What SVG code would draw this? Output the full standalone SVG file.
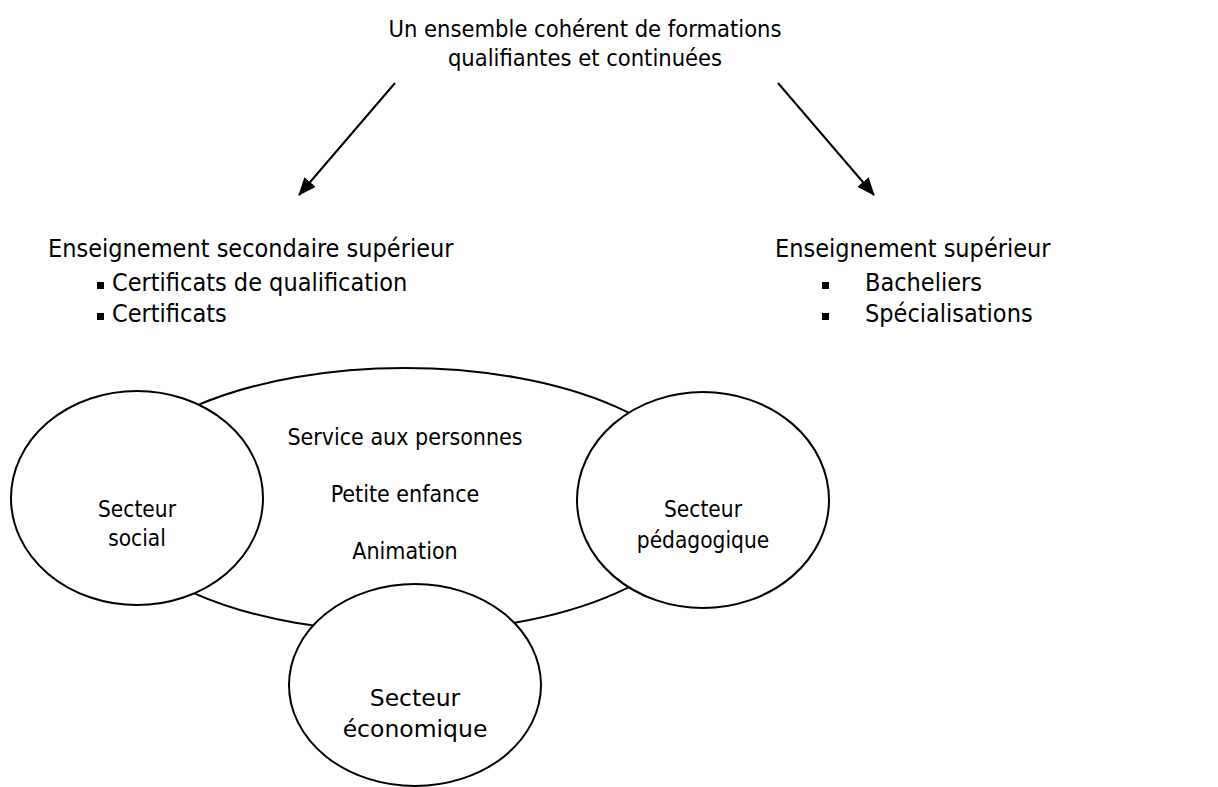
<svg xmlns="http://www.w3.org/2000/svg" width="1218" height="787" viewBox="0 0 1218 787">
<style>
text{font-family:"DejaVu Sans Condensed","DejaVu Sans",sans-serif;fill:#000}
.c{text-anchor:middle}
.top{font-size:23.5px}
.h{font-size:25px}
.in{font-size:23px}
.sec{font-size:22.5px}
.eco{font-family:"DejaVu Sans",sans-serif;font-size:23.5px}
.shape{fill:#fff;stroke:#000;stroke-width:2}
.conn{stroke:#000;stroke-width:2;fill:none}
</style>
<defs>
<marker id="ah" viewBox="0 0 18 15" refX="17" refY="7.5" markerWidth="18" markerHeight="15" markerUnits="userSpaceOnUse" orient="auto">
<path d="M0,0 L18,7.5 L0,15 z" fill="#000"/>
</marker>
</defs>
<rect width="1218" height="787" fill="#fff"/>
<g id="title">
<text class="top c" x="585" y="37">Un ensemble cohérent de formations</text>
<text class="top c" x="585" y="66">qualifiantes et continuées</text>
</g>
<g id="connectors">
<line class="conn" x1="395" y1="83" x2="299" y2="195" marker-end="url(#ah)"/>
<line class="conn" x1="778" y1="83" x2="874" y2="195" marker-end="url(#ah)"/>
</g>
<g id="secondaire">
<text class="h" x="48" y="257">Enseignement secondaire supérieur</text>
<rect x="97" y="282" width="7" height="7"/>
<text class="h" x="112" y="291">Certificats de qualification</text>
<rect x="97" y="313" width="7" height="7"/>
<text class="h" x="112" y="322">Certificats</text>
</g>
<g id="superieur">
<text class="h" x="775" y="257">Enseignement supérieur</text>
<rect x="822" y="282" width="7" height="7"/>
<text class="h" x="865" y="291">Bacheliers</text>
<rect x="822" y="313" width="7" height="7"/>
<text class="h" x="865" y="322">Spécialisations</text>
</g>
<g id="services">
<ellipse class="shape" cx="405" cy="500" rx="298" ry="132"/>
<text class="in c" x="405" y="445">Service aux personnes</text>
<text class="in c" x="405" y="502">Petite enfance</text>
<text class="in c" x="405" y="559">Animation</text>
</g>
<g id="social">
<ellipse class="shape" cx="137" cy="498" rx="126" ry="107"/>
<text class="sec c" x="137" y="517">Secteur</text>
<text class="sec c" x="137" y="546">social</text>
</g>
<g id="pedagogique">
<ellipse class="shape" cx="703" cy="500" rx="126" ry="108"/>
<text class="sec c" x="703" y="517">Secteur</text>
<text class="sec c" x="703" y="548">pédagogique</text>
</g>
<g id="economique">
<ellipse class="shape" cx="415" cy="685" rx="126" ry="101"/>
<text class="eco c" x="415" y="706">Secteur</text>
<text class="eco c" x="415" y="737">économique</text>
</g>
</svg>
